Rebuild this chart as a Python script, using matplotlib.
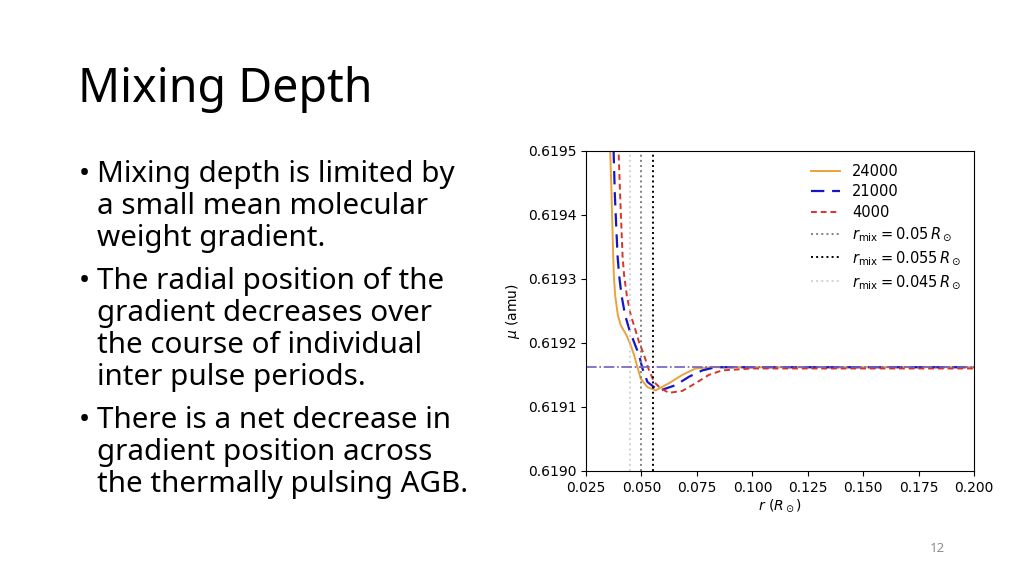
import matplotlib
matplotlib.use("Agg")
import matplotlib.pyplot as plt

# curves: radius (R_sun) and mean molecular weight (amu)
r_24000 = [0.0350, 0.0359, 0.03653, 0.03725, 0.03756, 0.03815, 0.03936, 0.04070,
           0.04326, 0.04519, 0.04667, 0.04820, 0.04968, 0.05269, 0.05641, 0.06238,
           0.06839, 0.07436, 0.08185, 0.1000, 0.1500, 0.2000]
mu_24000 = [0.61960, 0.61950, 0.619430, 0.619336, 0.619305, 0.619274, 0.619243,
            0.619227, 0.619212, 0.619196, 0.619181, 0.619162, 0.619144, 0.619131,
            0.619126, 0.619137, 0.619150, 0.619160, 0.619162, 0.619162, 0.619162,
            0.619162]

r_21000 = [0.0366, 0.03743, 0.03801, 0.03922, 0.03994, 0.04102, 0.04263, 0.04443,
           0.04667, 0.04892, 0.05044, 0.05269, 0.05641, 0.05865, 0.06538, 0.07135,
           0.07736, 0.08333, 0.1000, 0.1500, 0.2000]
mu_21000 = [0.61960, 0.61950, 0.619430, 0.619336, 0.619305, 0.619274, 0.619243,
            0.619222, 0.619201, 0.619181, 0.619160, 0.619139, 0.619129, 0.619126,
            0.619134, 0.619147, 0.619157, 0.619162, 0.619162, 0.619162, 0.619162]

r_4000 = [0.0386, 0.03967, 0.04039, 0.04147, 0.04219, 0.04340, 0.04519, 0.04712,
          0.04892, 0.05116, 0.05313, 0.05565, 0.05865, 0.06238, 0.06839, 0.07436,
          0.08033, 0.08634, 0.0950, 0.1000, 0.1500, 0.2000]
mu_4000 = [0.61960, 0.61950, 0.619430, 0.619336, 0.619305, 0.619274, 0.619243,
           0.619222, 0.619201, 0.619181, 0.619160, 0.619139, 0.619129, 0.619122,
           0.619125, 0.619137, 0.619150, 0.619157, 0.619159, 0.619160, 0.619160,
           0.619160]

r_mix = [0.05, 0.055, 0.045]
mix_labels = [r"$r_{\rm mix} = 0.05\,R_\odot$", r"$r_{\rm mix} = 0.055\,R_\odot$",
              r"$r_{\rm mix} = 0.045\,R_\odot$"]
mu_plateau = 0.619162

bullets = [
    ["Mixing depth is limited by", "a small mean molecular", "weight gradient."],
    ["The radial position of the", "gradient decreases over", "the course of individual",
     "inter pulse periods."],
    ["There is a net decrease in", "gradient position across", "the thermally pulsing AGB."],
]

W, H = 1024, 575
fig = plt.figure(figsize=(W / 100, H / 100), dpi=100)

# slide text
fig.text(78 / W, 1 - 102 / H, "Mixing Depth", family="Noto Sans", fontsize=33.5,
         va="baseline", ha="left")
y = 182.3
for block in bullets:
    fig.text(79 / W, 1 - y / H, "\u2022", family="Noto Sans", fontsize=21.3,
             va="baseline", ha="left")
    for line in block:
        fig.text(97 / W, 1 - y / H, line, family="Noto Sans", fontsize=21.3,
                 va="baseline", ha="left")
        y += 32
    y += 11
fig.text(937 / W, 1 - 552 / H, "12", family="Noto Sans", fontsize=9.5,
         color="#8c8c8c", ha="center", va="baseline")

# the embedded plot
ax = fig.add_axes([586 / W, 1 - 471 / H, 388.3 / W, 320.3 / H])
ax.plot(r_24000, mu_24000, color="#e8a33c", lw=1.4, label="24000")
ax.plot(r_21000, mu_21000, color="#1616c8", lw=1.6, dashes=(6, 3.5), label="21000")
ax.plot(r_4000, mu_4000, color="#d8342a", lw=1.4, dashes=(3, 2), label="4000")
for x, c, lab in zip(r_mix, ["gray", "black", "lightgray"], mix_labels):
    ax.axvline(x, color=c, ls=":", lw=1.4, label=lab)
ax.axhline(mu_plateau, color="#7060c0", ls="-.", lw=1.2)

ax.set_xlim(0.025, 0.2)
ax.set_ylim(0.619, 0.6195)
ax.set_xticks([0.025, 0.05, 0.075, 0.1, 0.125, 0.15, 0.175, 0.2])
ax.set_yticks([0.619, 0.6191, 0.6192, 0.6193, 0.6194, 0.6195])
ax.set_xticklabels(["0.025", "0.050", "0.075", "0.100", "0.125", "0.150", "0.175", "0.200"])
ax.set_yticklabels(["0.6190", "0.6191", "0.6192", "0.6193", "0.6194", "0.6195"])
ax.tick_params(labelsize=10)
ax.set_xlabel(r"$r$ ($R_\odot$)", fontsize=10, labelpad=2)
ax.set_ylabel(r"$\mu$ (amu)", fontsize=10)
ax.legend(loc="upper right", frameon=False, fontsize=10.5, labelspacing=0.38)

fig.savefig("out.png", dpi=100)
